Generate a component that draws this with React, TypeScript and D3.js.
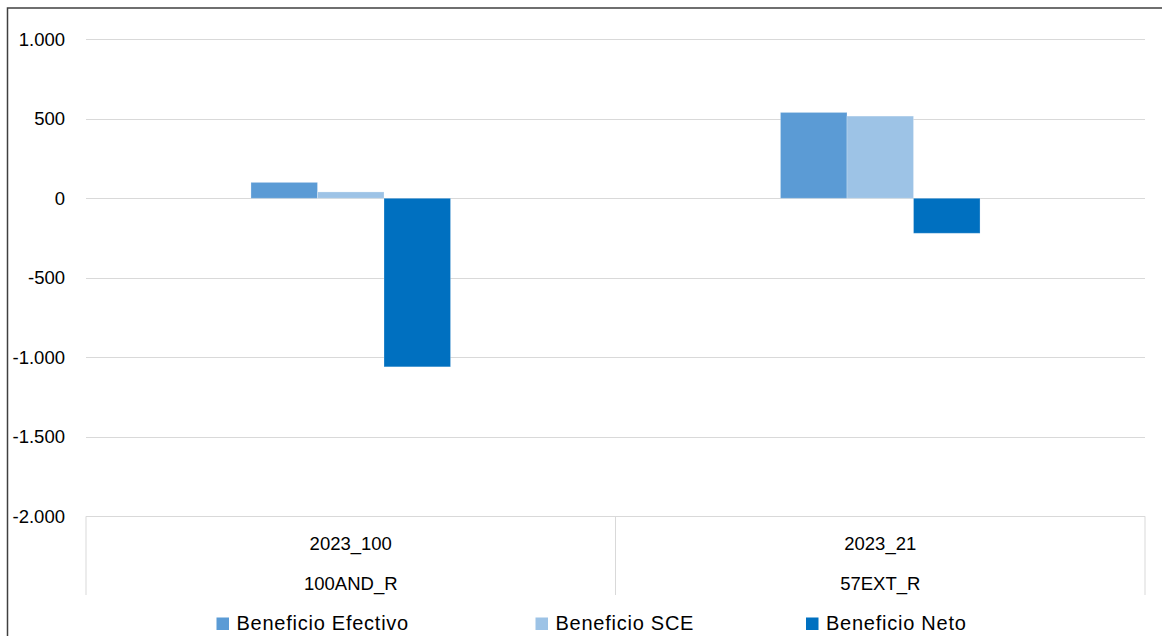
import React from "react";
import * as d3 from "d3";

const categories = ["2023_100", "2023_21"];
const subLabels = ["100AND_R", "57EXT_R"];
const seriesNames = ["Beneficio Efectivo", "Beneficio SCE", "Beneficio Neto"];
const efectivo = [100, 540];
const sce = [40, 517];
const neto = [-1060, -220];
const yTicks = [1000, 500, 0, -500, -1000, -1500, -2000];
const colors = ["#5B9BD5", "#9DC3E6", "#0070C0"];

const W = 1162;
const H = 636;
const FONT = "'Liberation Sans', Arial, sans-serif";

export default function App() {
  const series = [efectivo, sce, neto];
  const left = 86;
  const right = 1145;
  const y = d3.scaleLinear().domain([-2000, 1000]).range([516.3, 39.3]);
  const x0 = d3.scaleBand<string>().domain(categories).range([left, right]).paddingInner(0).paddingOuter(0);
  const x1 = d3
    .scaleBand<string>()
    .domain(seriesNames)
    .range([0, x0.bandwidth()])
    .paddingInner(0)
    .paddingOuter(2.48);
  const fmt = (v: number) => {
    const s = d3.format(",")(Math.abs(v)).replace(/,/g, ".");
    return v < 0 ? "-" + s : s;
  };
  const axisBottom = y(-2000);
  const sepBottom = 595;
  const legendX = [216.5, 535.5, 806];

  return (
    <svg
      width={W}
      height={H}
      style={{ position: "absolute", left: 0, top: 0, background: "#fff" }}
      fontFamily={FONT}
    >
      <rect x={0} y={0} width={W} height={H} fill="#fff" />
      <rect x={7.5} y={8} width={W + 20} height={H + 20} fill="none" stroke="#404040" strokeWidth={1.5} />
      {yTicks.map((t) => (
        <g key={t}>
          <line x1={left} x2={right} y1={Math.round(y(t)) + 0.5} y2={Math.round(y(t)) + 0.5} stroke="#d9d9d9" strokeWidth={1} />
          <text x={65} y={y(t)} dy="0.36em" textAnchor="end" fontSize={18.5} fill="#000">
            {fmt(t)}
          </text>
        </g>
      ))}
      {[left, x0(categories[1])!, right].map((xv, i) => (
        <line key={i} x1={xv} x2={xv} y1={axisBottom} y2={sepBottom} stroke="#d9d9d9" strokeWidth={1} />
      ))}
      {categories.map((c, ci) => (
        <g key={c}>
          {seriesNames.map((s, si) => {
            const v = series[si][ci];
            const yTop = y(Math.max(0, v));
            const yBot = y(Math.min(0, v));
            return (
              <rect
                key={s}
                x={x0(c)! + x1(s)!}
                y={yTop}
                width={x1.bandwidth()}
                height={yBot - yTop}
                fill={colors[si]}
                stroke="rgba(255,255,255,0.25)"
                strokeWidth={1}
              />
            );
          })}
          <text x={x0(c)! + x0.bandwidth() / 2} y={550} textAnchor="middle" fontSize={18.5} fill="#000">
            {c}
          </text>
          <text x={x0(c)! + x0.bandwidth() / 2} y={590} textAnchor="middle" fontSize={18.5} fill="#000">
            {subLabels[ci]}
          </text>
        </g>
      ))}
      {seriesNames.map((s, i) => (
        <g key={s}>
          <rect x={legendX[i]} y={617.5} width={12.5} height={12.5} fill={colors[i]} />
          <text x={legendX[i] + 20} y={630} fontSize={20} letterSpacing={0.75} fill="#000">
            {s}
          </text>
        </g>
      ))}
    </svg>
  );
}
